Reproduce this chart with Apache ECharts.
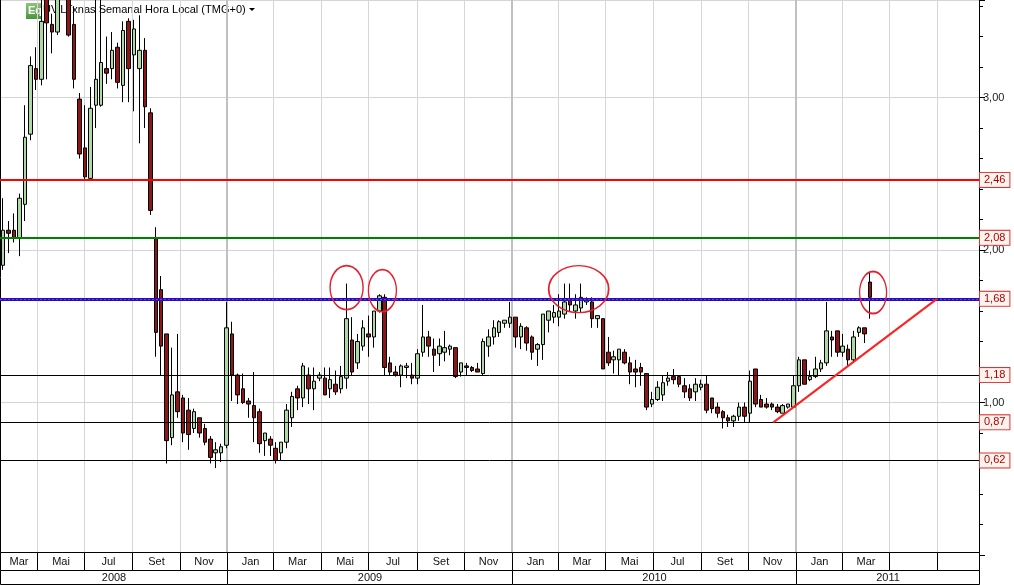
<!DOCTYPE html>
<html><head><meta charset="utf-8">
<script src="https://cdn.jsdelivr.net/npm/echarts@6/dist/echarts.min.js"></script>
<style>html,body{margin:0;padding:0;background:#fff}#c{width:1014px;height:585px}</style>
</head><body><div id="c"></div>
<script>
// ---- data ----
const firstWeek = '2008-03-19';
const opens = [
1.90,2.13,2.13,2.08,2.30,2.76,3.19,3.12,3.67,3.48,
3.43,3.70,3.80,3.48,2.99,2.67,2.47,2.95,2.95,3.19,
3.19,3.33,3.08,3.50,3.28,3.19,3.31,2.90,2.08,1.74,
1.45,0.77,1.07,1.03,0.95,0.83,0.90,0.83,0.76,0.67,
0.67,0.72,1.45,1.18,1.09,1.01,0.98,0.94,0.75,0.76,
0.70,0.67,0.74,0.90,1.09,1.03,1.18,1.09,1.16,1.16,
1.09,1.12,1.09,1.16,1.41,1.26,1.37,1.45,1.43,1.60,
1.69,1.26,1.20,1.18,1.23,1.18,1.16,1.33,1.43,1.35,
1.32,1.33,1.35,1.36,1.20,1.24,1.23,1.22,1.19,1.37,
1.43,1.46,1.52,1.52,1.56,1.43,1.49,1.43,1.35,1.38,
1.54,1.56,1.56,1.58,1.68,1.60,1.62,1.66,1.66,1.55,
1.55,1.33,1.28,1.28,1.33,1.26,1.22,1.23,1.19,0.99,
1.02,1.05,1.14,1.17,1.17,1.11,1.09,1.07,1.10,1.12,
1.03,0.97,0.94,0.90,0.88,0.91,0.97,0.93,1.22,1.02,
0.99,0.99,0.97,0.93,0.97,0.97,1.11,1.28,1.15,1.17,
1.22,1.26,1.43,1.47,1.33,1.35,1.28,1.46,1.49,1.79];
const closes = [
2.13,2.11,2.08,2.34,2.74,3.21,3.12,3.50,3.49,3.43,
3.66,3.78,3.41,3.12,2.63,2.48,2.93,3.12,3.23,3.16,
3.31,3.10,3.44,3.19,3.45,3.31,2.94,2.26,1.46,1.37,
0.75,1.05,0.94,0.80,0.79,0.94,0.80,0.74,0.64,0.69,
0.71,1.49,1.18,1.05,1.00,0.99,0.90,0.73,0.80,0.72,
0.62,0.74,0.95,1.04,1.03,1.24,1.09,1.14,1.18,1.05,
1.15,1.07,1.17,1.55,1.20,1.40,1.49,1.43,1.60,1.70,
1.23,1.20,1.18,1.24,1.24,1.16,1.32,1.43,1.37,1.31,
1.37,1.36,1.37,1.17,1.26,1.23,1.21,1.20,1.40,1.43,
1.49,1.53,1.54,1.56,1.43,1.50,1.39,1.33,1.38,1.58,
1.60,1.59,1.60,1.66,1.64,1.64,1.69,1.68,1.55,1.57,
1.22,1.26,1.30,1.35,1.26,1.20,1.20,1.20,0.97,1.02,
1.10,1.13,1.16,1.15,1.12,1.07,1.03,1.12,1.12,0.95,
0.96,0.93,0.90,0.88,0.91,0.97,0.91,1.14,0.99,0.97,
0.97,0.97,0.94,0.98,0.99,1.11,1.28,1.12,1.17,1.22,
1.26,1.47,1.41,1.33,1.37,1.28,1.43,1.49,1.45,1.69];
const lows = [
1.87,1.98,2.05,1.96,2.19,2.72,3.05,3.08,3.12,3.29,
3.41,3.66,3.40,3.06,2.60,2.46,2.47,2.80,2.94,3.09,
3.12,3.06,2.97,2.97,2.91,2.70,2.80,2.23,1.30,1.18,
0.60,0.72,0.90,0.74,0.69,0.80,0.77,0.72,0.60,0.57,
0.61,0.70,1.01,0.99,0.99,0.90,0.74,0.67,0.65,0.65,
0.60,0.62,0.70,0.84,0.95,0.97,0.99,0.95,1.14,1.05,
1.03,1.05,1.06,1.09,1.18,1.22,1.34,1.30,1.36,1.59,
1.18,1.18,1.17,1.10,1.16,1.12,1.12,1.30,1.30,1.20,
1.24,1.27,1.31,1.16,1.17,1.18,1.20,1.20,1.18,1.30,
1.38,1.43,1.49,1.49,1.36,1.35,1.34,1.28,1.24,1.28,
1.46,1.52,1.50,1.55,1.60,1.55,1.59,1.64,1.49,1.49,
1.22,1.24,1.19,1.18,1.25,1.12,1.10,1.11,0.95,0.97,
1.01,1.01,1.11,1.12,1.10,1.03,1.01,1.01,1.08,0.93,
0.93,0.90,0.83,0.84,0.84,0.88,0.87,0.87,0.97,0.97,
0.96,0.95,0.93,0.93,0.96,0.97,1.07,1.12,1.14,1.16,
1.20,1.24,1.30,1.30,1.30,1.24,1.26,1.43,1.39,1.55];
const highs = [
2.34,2.19,2.24,2.37,2.95,3.27,3.33,3.70,3.75,3.55,
3.75,3.85,3.85,3.60,3.03,2.95,3.07,3.70,3.68,3.40,
3.43,3.36,3.50,3.52,3.51,3.54,3.39,2.93,2.15,1.83,
1.45,1.36,1.45,1.05,1.03,0.96,0.90,0.86,0.78,0.74,
0.73,1.66,1.53,1.19,1.19,1.03,1.20,0.96,0.80,0.78,
0.74,0.74,0.99,1.07,1.11,1.26,1.23,1.23,1.20,1.23,
1.23,1.21,1.24,1.78,1.56,1.45,1.54,1.57,1.60,1.71,
1.71,1.30,1.24,1.25,1.26,1.26,1.35,1.64,1.47,1.42,
1.42,1.47,1.38,1.36,1.26,1.26,1.24,1.26,1.42,1.48,
1.54,1.54,1.54,1.66,1.56,1.52,1.50,1.44,1.39,1.58,
1.60,1.64,1.71,1.78,1.78,1.71,1.78,1.69,1.69,1.57,
1.55,1.43,1.34,1.35,1.35,1.30,1.28,1.26,1.19,1.07,
1.14,1.18,1.20,1.22,1.17,1.16,1.12,1.16,1.15,1.18,
1.03,1.00,0.95,0.92,0.92,1.00,1.00,1.21,1.22,1.05,
1.03,1.00,0.99,0.99,0.99,1.18,1.30,1.28,1.21,1.30,
1.28,1.66,1.47,1.47,1.45,1.38,1.47,1.50,1.49,1.85];
const levels = [2.46, 2.08, 1.68, 1.18, 0.87, 0.62];
const axisStart = '2008-03-15';
const axisEnd = '2011-08-24';
const priceMin = 0, priceMax = 3.64;
const monthBounds = ['2008-03-15','2008-05-01','2008-07-01','2008-09-01','2008-11-01',
  '2009-01-01','2009-03-01','2009-05-01','2009-07-01','2009-09-01','2009-11-01',
  '2010-01-01','2010-03-01','2010-05-01','2010-07-01','2010-09-01','2010-11-01',
  '2011-01-01','2011-03-01','2011-05-01','2011-07-01','2011-08-24'];
const monthLabels = ['Mar','Mai','Jul','Set','Nov','Jan','Mar','Mai','Jul','Set','Nov',
  'Jan','Mar','Mai','Jul','Set','Nov','Jan','Mar','',''];
const yearBounds = ['2008-03-15','2009-01-01','2010-01-01','2011-01-01','2011-08-24'];
const yearLabels = ['2008','2009','2010','2011'];
const circledPoints = [['2009-06-03',1.754],['2009-07-19',1.734],['2010-03-28',1.744],['2011-04-10',1.721]];
const trendLine = [['2010-12-03',0.87],['2011-07-01',1.68]];
const titleText = 'UV.LTxnas Semanal Hora Local (TMG+0)';

// ---- styles ----
const levelStyles = [
  {color:'#ff0000', width:2}, {color:'#008000', width:2}, {color:'#1414c8', width:3},
  {color:'#000000', width:1}, {color:'#000000', width:1}, {color:'#000000', width:1}];
const ellipseSizes = [[33,44],[28,42],[60,47],[27,42]];
const FONT = '"Liberation Sans", Arial, sans-serif';

function T(s){ const [y,m,d] = s.split('-').map(Number); return new Date(y, m-1, d).getTime(); }
const [fy,fm,fd] = firstWeek.split('-').map(Number);
const weekTimes = opens.map((_, i) => new Date(fy, fm-1, fd + 7*i).getTime());
const candleData = opens.map((o, i) => [weekTimes[i], o, closes[i], lows[i], highs[i]]);
const fmt = v => v.toFixed(2).replace('.', ',');

const boxLabel = {
  show:true, position:'end', distance:1, formatter: p => fmt(p.value),
  color:'#b00000', fontSize:11, fontFamily:FONT,
  backgroundColor:'#fff3ee', borderColor:'#e03030', borderWidth:1, padding:[2,4,1,4]
};
const markData = [];
levels.forEach((lv, i) => {
  markData.push({yAxis: lv, lineStyle:{color:levelStyles[i].color, width:levelStyles[i].width, type:'solid'}, label: boxLabel});
  if (lv === 1.68) markData.push({yAxis: lv, lineStyle:{color:'#d010d0', width:1, type:[2,2]}, label:{show:false}});
});
markData.push([
  {coord:[T(trendLine[0][0]), trendLine[0][1]], lineStyle:{color:'#ff2020', width:2, type:'solid'}, label:{show:false}},
  {coord:[T(trendLine[1][0]), trendLine[1][1]]}
]);

const chart = echarts.init(document.getElementById('c'), null, {renderer:'canvas'});
chart.setOption({
  animation:false,
  backgroundColor:'#ffffff',
  grid:{left:0, right:35, top:0, bottom:30},
  xAxis:{type:'time', min:T(axisStart), max:T(axisEnd), show:true,
    axisLine:{show:false}, axisTick:{show:false}, axisLabel:{show:false}, splitLine:{show:false}},
  yAxis:[{
    type:'value', position:'right', min:priceMin, max:priceMax, interval:1,
    axisLine:{show:true, lineStyle:{color:'#000', width:1}},
    axisTick:{show:true, inside:false, length:6, lineStyle:{color:'#000'}},
    minorTick:{show:true, splitNumber:5, length:4, lineStyle:{color:'#000'}},
    axisLabel:{margin:4, color:'#222', fontSize:11, fontFamily:FONT,
      formatter: v => (Number.isInteger(v) && v > 0) ? fmt(v) : ''},
    splitLine:{show:true, lineStyle:{color:'#d4d4d4', width:1}}
  },{
    type:'value', position:'left', min:priceMin, max:priceMax,
    axisLine:{show:true, lineStyle:{color:'#000', width:1}},
    axisTick:{show:false}, axisLabel:{show:false}, splitLine:{show:false}
  }],
  graphic:[
    {type:'rect', left:26, top:3, z:0, shape:{width:16, height:16},
      style:{fill:new echarts.graphic.LinearGradient(0,0,0,1,[{offset:0,color:'#8cc47c'},{offset:1,color:'#4a9440'}])}},
    {type:'text', left:28, top:5, z:0, style:{text:'Eq', fill:'#ffffff', font:'bold 11px ' + FONT}},
    {type:'text', left:43, top:4, z:0, style:{text:titleText, fill:'#000', font:'11px ' + FONT}},
    {type:'polygon', z:0, shape:{points:[[249,8],[255,8],[252,11]]}, style:{fill:'#000'}}
  ],
  series:[
    { // vertical grid lines at month boundaries
      type:'custom', silent:true, z:1, clip:false,
      data: monthBounds.slice(1, -1).map(d => [T(d), 0]),
      encode:{x:0, y:1},
      renderItem(params, api){
        const ts = api.value(0);
        const p0 = api.coord([ts, priceMax]);
        const p1 = api.coord([ts, priceMin]);
        const isYear = new Date(ts).getMonth() === 0;
        const x = Math.round(p0[0]) + (isYear ? 0 : 0.5);
        return {type:'line', shape:{x1:x, y1:p0[1], x2:x, y2:p1[1]},
          style:{stroke:isYear ? '#c0c0c0' : '#d6d6d6', lineWidth:isYear ? 2 : 1}};
      }
    },
    {
      type:'candlestick', z:3, barWidth:4,
      data: candleData,
      encode:{x:0, y:[1,2,3,4]},
      itemStyle:{color:'#add9a3', color0:'#8e1616', borderColor:'#000', borderColor0:'#000', borderWidth:1},
      markLine:{symbol:['none','none'], silent:true, animation:false, z:6, data: markData}
    },
    {
      type:'scatter', z:7, silent:true,
      symbol:'path://M0,50A50,50,0,1,1,100,50A50,50,0,1,1,0,50Z',
      data: circledPoints.map((p, i) => ({value:[T(p[0]), p[1]], symbolSize: ellipseSizes[i]})),
      itemStyle:{color:'rgba(0,0,0,0)', borderColor:'#e42030', borderWidth:1.6, opacity:1}
    },
    { // month label row
      type:'custom', silent:true, z:20, clip:false,
      data: monthLabels.map((l, i) => [T(monthBounds[i]), T(monthBounds[i+1]), 0]),
      encode:{x:[0,1], y:2},
      renderItem(params, api){
        const a = api.coord([api.value(0), 0])[0];
        const b = api.coord([api.value(1), 0])[0];
        const xa = Math.round(a) + 0.5, xb = Math.round(b) + 0.5;
        return {type:'group', children:[
          {type:'rect', shape:{x:xa, y:552.5, width:xb - xa, height:18}, style:{fill:'#fff', stroke:'#000', lineWidth:1}},
          {type:'text', x:(xa + xb) / 2, y:562, style:{text:monthLabels[params.dataIndex], align:'center', verticalAlign:'middle', fill:'#111', font:'11px ' + FONT}}
        ]};
      }
    },
    { // year label row
      type:'custom', silent:true, z:20, clip:false,
      data: yearLabels.map((l, i) => [T(yearBounds[i]), T(yearBounds[i+1]), 0]),
      encode:{x:[0,1], y:2},
      renderItem(params, api){
        const a = api.coord([api.value(0), 0])[0];
        const b = api.coord([api.value(1), 0])[0];
        const xa = Math.round(a) + 0.5, xb = Math.round(b) + 0.5;
        return {type:'group', children:[
          {type:'rect', shape:{x:xa, y:570.5, width:xb - xa, height:14}, style:{fill:'#fff', stroke:'#000', lineWidth:1}},
          {type:'text', x:(xa + xb) / 2, y:578, style:{text:yearLabels[params.dataIndex], align:'center', verticalAlign:'middle', fill:'#111', font:'11px ' + FONT}}
        ]};
      }
    }
  ]
});
</script></body></html>
